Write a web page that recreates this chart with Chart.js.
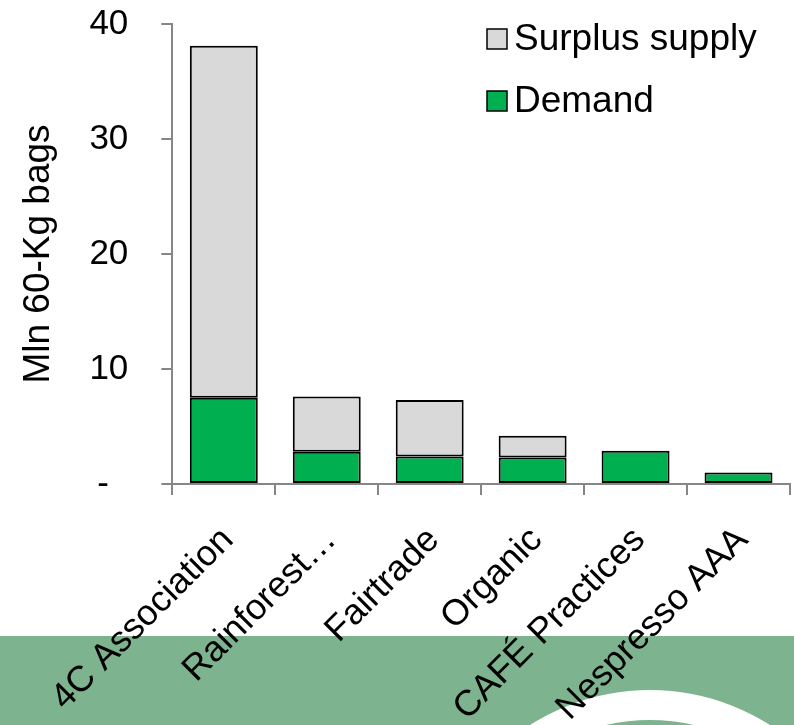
<!DOCTYPE html>
<html>
<head>
<meta charset="utf-8">
<script src="https://cdn.jsdelivr.net/npm/chart.js@4/dist/chart.umd.min.js"></script>
<style>
  html, body { margin: 0; padding: 0; background: #fff; }
  #wrap { width: 794px; height: 725px; position: relative; }
</style>
</head>
<body>
<div id="wrap"><canvas id="bagsChart" width="794" height="725"></canvas></div>
<script>
const categories = ['4C Association', 'Rainforest…', 'Fairtrade', 'Organic', 'CAFÉ Practices', 'Nespresso AAA'];
const demand = [7.5, 2.8, 2.4, 2.3, 2.9, 1.0];
const surplus = [30.6, 4.8, 4.9, 1.9, 0, 0];
const yTicks = [0, 10, 20, 30, 40];

const FONT = 'Liberation Sans, Arial, sans-serif';

// green band + white ring behind the chart
const backdrop = {
    id: 'backdrop',
    beforeDraw(chart) {
        const c = chart.ctx;
        c.save();
        c.fillStyle = '#7db38e';
        c.fillRect(0, 636, chart.width, chart.height - 636);
        c.beginPath();
        c.arc(650, 913, 208, 0, Math.PI * 2);
        c.lineWidth = 30;
        c.strokeStyle = '#ffffff';
        c.stroke();
        c.restore();
    }
};

// legend drawn inside the plot, Surplus first
const boxLegend = {
    id: 'boxLegend',
    afterDraw(chart) {
        const c = chart.ctx;
        const items = chart.data.datasets.slice().reverse();
        c.save();
        c.font = '37px ' + FONT;
        c.textBaseline = 'middle';
        items.forEach((ds, i) => {
            const y = 39 + i * 62;
            c.fillStyle = ds.backgroundColor;
            c.fillRect(487, y - 10, 20, 20);
            c.lineWidth = 1.5;
            c.strokeStyle = '#000';
            c.strokeRect(487, y - 10, 20, 20);
            c.fillStyle = '#000';
            c.fillText(ds.label, 514, y + 1);
        });
        c.restore();
    }
};

new Chart(document.getElementById('bagsChart').getContext('2d'), {
    type: 'bar',
    data: {
        labels: categories,
        datasets: [
            {
                label: 'Demand',
                data: demand,
                backgroundColor: '#00b050',
                borderColor: '#000',
                borderWidth: 2,
                borderSkipped: false
            },
            {
                label: 'Surplus supply',
                data: surplus,
                backgroundColor: '#d9d9d9',
                borderColor: '#000',
                borderWidth: 2,
                borderSkipped: false
            }
        ]
    },
    options: {
        responsive: false,
        animation: false,
        layout: { padding: { top: 24, right: 4, bottom: 0, left: 17 } },
        datasets: { bar: { categoryPercentage: 1, barPercentage: 0.66 } },
        plugins: { legend: { display: false }, tooltip: { enabled: false } },
        scales: {
            x: {
                stacked: true,
                afterFit(s) { s.height = 241; s.paddingLeft = 0; s.paddingRight = 0; },
                grid: { offset: true, drawOnChartArea: false, tickLength: 11, color: '#868686', lineWidth: 2 },
                border: { color: '#868686', width: 2 },
                ticks: {
                    color: '#000',
                    font: { family: FONT, size: 36 },
                    minRotation: 45,
                    maxRotation: 45,
                    padding: 24,
                    labelOffset: 4
                }
            },
            y: {
                stacked: true,
                min: 0,
                max: 40,
                afterBuildTicks(axis) { axis.ticks = yTicks.map(v => ({ value: v })); },
                afterFit(s) { s.paddingTop = 0; s.paddingBottom = 0; },
                grid: { drawOnChartArea: false, tickLength: 11, color: '#868686', lineWidth: 2 },
                border: { color: '#868686', width: 2 },
                ticks: {
                    color: '#000',
                    font: { family: FONT, size: 35 },
                    padding: 33,
                    callback: v => v === 0 ? '-  ' : v
                },
                title: {
                    display: true,
                    text: 'Mln 60-Kg bags',
                    color: '#000',
                    font: { family: FONT, size: 37 },
                    padding: { top: 0, bottom: -5 }
                }
            }
        }
    },
    plugins: [backdrop, boxLegend]
});
</script>
</body>
</html>
